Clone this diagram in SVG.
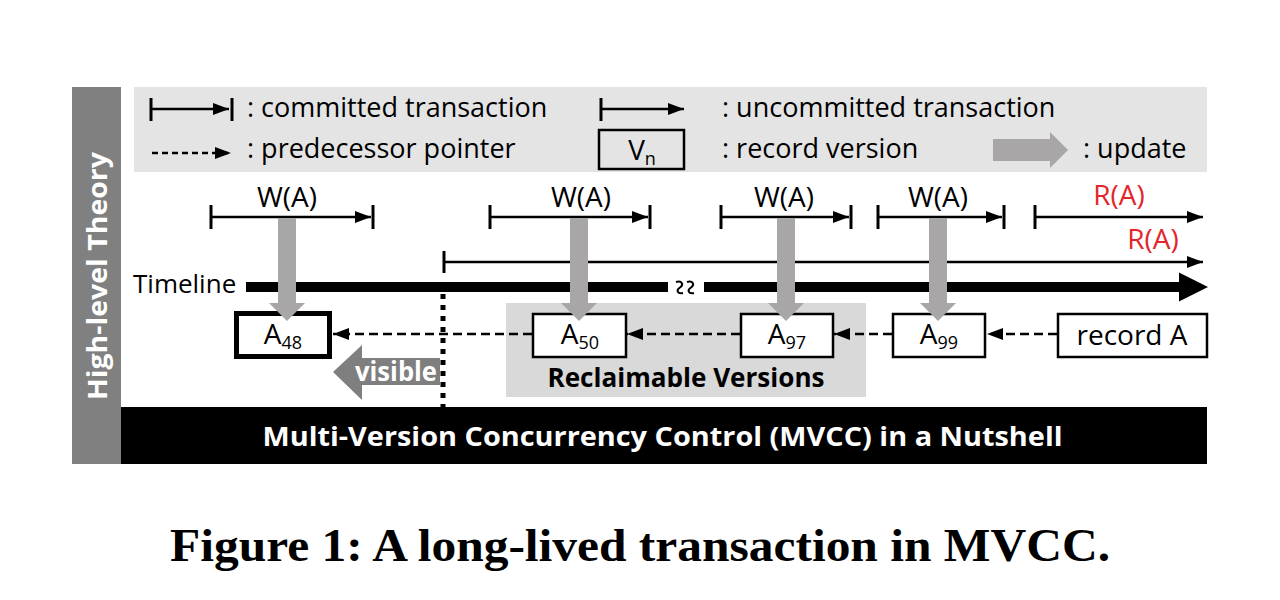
<svg xmlns="http://www.w3.org/2000/svg" width="1280" height="600" viewBox="0 0 1280 600">
<style>
  .t { font-family: "Open Sans", "Noto Sans", sans-serif; fill: #000; }
  .lg { font-size: 27px; }
  .lbl { font-size: 28px; text-anchor: middle; }
  .red { fill: #e3262b; }
  .bx { font-size: 28px; text-anchor: middle; }
  .sub { font-size: 18px; }
  .wb { font-weight: bold; fill: #fff; }
  .ln { stroke: #000; stroke-width: 2.5; fill: none; }
  .tick { stroke: #000; stroke-width: 3; }
  .dash { stroke: #000; stroke-width: 2.5; stroke-dasharray: 9 5; fill: none; }
  .box { fill: #fff; stroke: #000; stroke-width: 2.5; }
  .upd { fill: #a8a6a6; }
</style>
<defs>
  <marker id="ah" viewBox="0 0 16 12" refX="16" refY="6" markerWidth="16" markerHeight="12" markerUnits="userSpaceOnUse" orient="auto">
    <path d="M0,0 L16,6 L0,12 z" fill="#000"/>
  </marker>
</defs>
<rect width="1280" height="600" fill="#fff"/>

<g id="sidebar">
  <rect x="72" y="87" width="49" height="377" fill="#808080"/>
  <text class="t wb" font-size="26" text-anchor="middle" textLength="248" lengthAdjust="spacingAndGlyphs" transform="translate(107,276) rotate(-90)">High-level Theory</text>
</g>

<g id="legend">
  <rect x="134" y="87" width="1073" height="85" fill="#e4e4e4"/>
  <line class="tick" x1="151" y1="98" x2="151" y2="121"/>
  <line class="ln" x1="151" y1="109" x2="229" y2="109" marker-end="url(#ah)"/>
  <line class="tick" x1="232" y1="98" x2="232" y2="121"/>
  <text class="t lg" x="247" y="117">: committed transaction</text>
  <line class="ln" x1="152" y1="153" x2="231" y2="153" stroke-dasharray="6 4" marker-end="url(#ah)"/>
  <text class="t lg" x="247" y="158">: predecessor pointer</text>
  <line class="tick" x1="601" y1="98" x2="601" y2="121"/>
  <line class="ln" x1="601" y1="109" x2="684" y2="109" marker-end="url(#ah)"/>
  <text class="t lg" x="722" y="117">: uncommitted transaction</text>
  <rect x="599" y="130" width="85" height="39" fill="none" stroke="#000" stroke-width="2.5"/>
  <text class="t bx" x="642" y="160">V<tspan class="sub" dy="5">n</tspan></text>
  <text class="t lg" x="722" y="158">: record version</text>
  <polygon class="upd" points="993,139 1050,139 1050,132 1068,150 1050,168 1050,161 993,161"/>
  <text class="t lg" x="1083" y="158">: update</text>
</g>

<g id="bottom-bar">
  <rect x="121" y="407" width="1086" height="57" fill="#000"/>
  <text class="t wb" x="662.5" y="446" font-size="27" text-anchor="middle" textLength="800" lengthAdjust="spacingAndGlyphs">Multi-Version Concurrency Control (MVCC) in a Nutshell</text>
</g>

<g id="reclaimable">
  <rect x="506" y="303" width="360" height="94" fill="#d9d9d9"/>
  <text class="t" x="686" y="387" font-size="27" font-weight="bold" text-anchor="middle" textLength="277" lengthAdjust="spacingAndGlyphs">Reclaimable Versions</text>
</g>

<g id="timeline">
  <text class="t" x="133" y="293" font-size="26">Timeline</text>
  <rect x="246" y="282" width="422" height="10" fill="#000"/>
  <rect x="704" y="282" width="476" height="10" fill="#000"/>
  <polygon points="1179,272.5 1208,287 1179,301.5" fill="#000"/>
  <path d="M676,282 C682,280 684,285 680,287.5 C676,290 677,294 683,293" fill="none" stroke="#000" stroke-width="2"/>
  <path d="M687,282 C693,280 695,285 691,287.5 C687,290 688,294 694,293" fill="none" stroke="#000" stroke-width="2"/>
</g>

<g id="txn-w1">
  <text class="t lbl" x="287" y="207">W(A)</text>
  <line class="tick" x1="211" y1="205" x2="211" y2="229"/>
  <line class="ln" x1="211" y1="217" x2="371" y2="217" marker-end="url(#ah)"/>
  <line class="tick" x1="373" y1="205" x2="373" y2="229"/>
</g>
<g id="txn-w2">
  <text class="t lbl" x="581" y="207">W(A)</text>
  <line class="tick" x1="490" y1="205" x2="490" y2="229"/>
  <line class="ln" x1="490" y1="217" x2="648" y2="217" marker-end="url(#ah)"/>
  <line class="tick" x1="650" y1="205" x2="650" y2="229"/>
</g>
<g id="txn-w3">
  <text class="t lbl" x="784" y="207">W(A)</text>
  <line class="tick" x1="721" y1="205" x2="721" y2="229"/>
  <line class="ln" x1="721" y1="217" x2="849" y2="217" marker-end="url(#ah)"/>
  <line class="tick" x1="851" y1="205" x2="851" y2="229"/>
</g>
<g id="txn-w4">
  <text class="t lbl" x="938" y="207">W(A)</text>
  <line class="tick" x1="878" y1="205" x2="878" y2="229"/>
  <line class="ln" x1="878" y1="217" x2="1002" y2="217" marker-end="url(#ah)"/>
  <line class="tick" x1="1004" y1="205" x2="1004" y2="229"/>
</g>
<g id="txn-r1">
  <text class="t lbl red" x="1119" y="205">R(A)</text>
  <line class="tick" x1="1035" y1="205" x2="1035" y2="229"/>
  <line class="ln" x1="1035" y1="217" x2="1203" y2="217" marker-end="url(#ah)"/>
</g>
<g id="txn-long">
  <text class="t lbl red" x="1153" y="249">R(A)</text>
  <line class="tick" x1="444" y1="251" x2="444" y2="273"/>
  <line class="ln" x1="444" y1="262" x2="1203" y2="262" marker-end="url(#ah)"/>
</g>

<g id="visible">
  <line x1="443" y1="294" x2="443" y2="407" stroke="#000" stroke-width="5" stroke-dasharray="5 6"/>
  <polygon points="333,372 362,345 362,358 440,358 440,385 362,385 362,400" fill="#7f7f7f"/>
  <text class="t wb" x="396" y="381" font-size="26" text-anchor="middle" textLength="82" lengthAdjust="spacingAndGlyphs">visible</text>
</g>

<g id="connectors">
  <line class="dash" x1="532" y1="334" x2="333" y2="334" marker-end="url(#ah)"/>
  <line class="dash" x1="740" y1="334" x2="627" y2="334" marker-end="url(#ah)"/>
  <line class="dash" x1="892" y1="334" x2="834" y2="334" marker-end="url(#ah)"/>
  <line class="dash" x1="1057" y1="334" x2="987" y2="334" marker-end="url(#ah)"/>
</g>

<g id="node-a48">
  <rect x="236.5" y="313.5" width="93" height="43" fill="#fff" stroke="#000" stroke-width="5"/>
  <text class="t bx" x="283" y="344">A<tspan class="sub" dy="5">48</tspan></text>
</g>
<g id="node-a50">
  <rect class="box" x="533" y="314" width="93" height="43"/>
  <text class="t bx" x="580" y="344">A<tspan class="sub" dy="5">50</tspan></text>
</g>
<g id="node-a97">
  <rect class="box" x="741" y="314" width="92" height="43"/>
  <text class="t bx" x="787" y="344">A<tspan class="sub" dy="5">97</tspan></text>
</g>
<g id="node-a99">
  <rect class="box" x="893" y="314" width="92" height="43"/>
  <text class="t bx" x="939" y="344">A<tspan class="sub" dy="5">99</tspan></text>
</g>
<g id="node-record">
  <rect class="box" x="1058" y="314" width="149" height="43"/>
  <text class="t" x="1132" y="345" font-size="28" text-anchor="middle">record A</text>
</g>

<g id="updates">
  <polygon class="upd" points="278,218 296,218 296,303 305,303 287,321 269,303 278,303"/>
  <polygon class="upd" points="570,218 588,218 588,303 597,303 579,321 561,303 570,303"/>
  <polygon class="upd" points="777,218 795,218 795,303 804,303 786,321 768,303 777,303"/>
  <polygon class="upd" points="929,218 947,218 947,303 956,303 938,321 920,303 929,303"/>
</g>

<g id="caption">
  <text x="640" y="561" font-family="'Liberation Serif', 'DejaVu Serif', serif" font-weight="bold" font-size="46" text-anchor="middle" textLength="940" lengthAdjust="spacingAndGlyphs">Figure 1: A long-lived transaction in MVCC.</text>
</g>
</svg>
